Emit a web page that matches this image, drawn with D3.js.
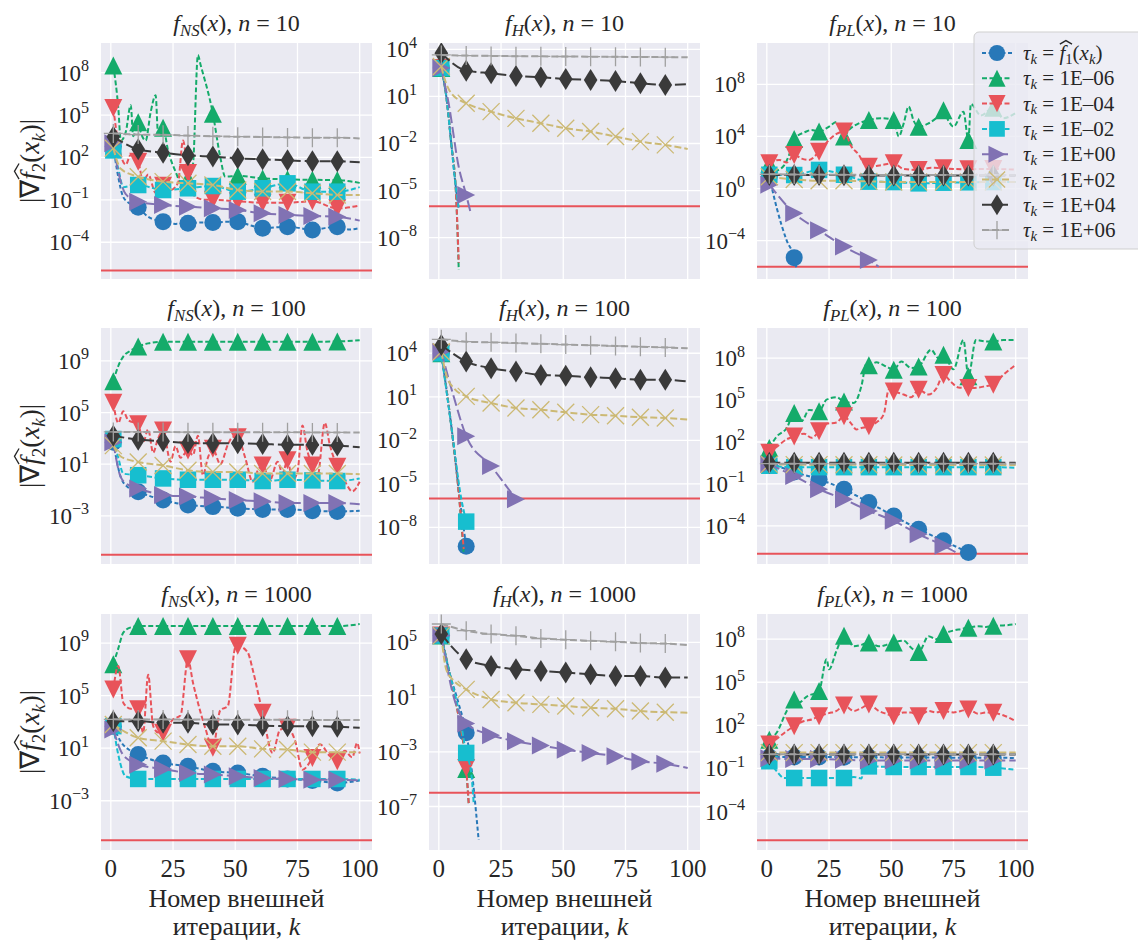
<!DOCTYPE html>
<html>
<head>
<meta charset="utf-8">
<script src="https://cdn.jsdelivr.net/npm/d3@7"></script>
<style>
  body { margin: 0; background: #fff; }
  svg { display: block; }
  text { font-family: "Liberation Serif", "Times New Roman", serif; fill: #262626; white-space: pre; }
</style>
</head>
<body>
<svg id="chart" width="1138" height="944"></svg>
<script>
// DATA ///////////////////////////////////////////////////////////////////////
// every series is a list of [k, log10 |grad f2(x_k)|]
// series order: tau = f1(x_k), 1E-06, 1E-04, 1E-02, 1E+00, 1E+02, 1E+04, 1E+06

const funcNames = ["NS", "H", "PL"];
const dims = [10, 100, 1000];
const tauLabels = ["1E–06", "1E–04", "1E–02", "1E+00", "1E+02", "1E+04", "1E+06"];
const xTicks = [0, 25, 50, 75, 100];
const kRange = [1, 100];
const tolerance = 1e-6;

// y limits and ticks (log10) per panel, row by row
const yLimExp = [
  [-6.60, 10.10], [-10.63, 4.40], [-6.94, 11.17],
  [-6.72, 11.54], [-10.52, 5.74], [-6.73, 10.16],
  [-6.75, 11.22], [-10.18, 7.08], [-6.68, 9.75]
];
const yTickExp = [
  [-4, -1, 2, 5, 8], [-8, -5, -2, 1, 4], [-4, 0, 4, 8],
  [-3, 1, 5, 9], [-8, -5, -2, 1, 4], [-4, -1, 2, 5, 8],
  [-3, 1, 5, 9], [-7, -3, 1, 5], [-4, -1, 2, 5, 8]
];

const fNS10 = [
  [[1,2.8],[3,0.6],[5,-0.8],[8,-1.3],[11,-1.53],[15,-2.2],[21,-2.54],[26,-2.7],[31,-2.66],[36,-2.6],[41,-2.61],[46,-2.55],[51,-2.54],[56,-2.8],[61,-3.0],[66,-2.95],[71,-2.9],[76,-3.0],[81,-3.13],[86,-3.0],[91,-2.9],[96,-3.1],[100,-3.0]],
  [[1,8.5],[3,5.5],[4,3.2],[6,3.8],[8,5.7],[9,3.5],[11,4.5],[12,3.8],[14,3.2],[16,5.2],[18,6.4],[19,3.6],[21,4.1],[23,2.5],[26,1.0],[28,0.3],[31,0.5],[33,1.5],[35,9.25],[36,8.6],[41,5.1],[44,2.0],[46,0.64],[51,0.7],[61,0.52],[71,0.45],[81,0.42],[91,0.4],[100,0.2]],
  [[1,5.5],[3,3.0],[6,1.5],[8,2.2],[11,1.7],[13,0.3],[15,0.8],[18,-0.5],[21,0.0],[24,-0.3],[27,0.2],[29,3.2],[31,0.9],[34,-0.8],[38,-1.0],[41,-1.0],[51,-1.1],[61,-1.2],[71,-1.2],[81,-1.1],[91,-1.6],[100,-1.4]],
  [[1,2.5],[3,1.2],[5,-0.1],[8,0.0],[11,0.05],[21,-0.3],[31,-0.18],[41,-0.02],[51,-0.42],[61,-0.18],[71,0.17],[81,-0.42],[91,-0.42],[100,-0.1]],
  [[1,3.0],[3,1.0],[6,-0.6],[11,-1.13],[21,-1.36],[31,-1.48],[41,-1.6],[51,-1.72],[61,-1.95],[71,-2.07],[81,-2.14],[91,-2.2],[100,-2.47]],
  [[1,2.65],[4,1.2],[11,0.64],[21,0.29],[31,0.17],[41,0.05],[51,-0.3],[61,-0.41],[71,-0.41],[81,-0.53],[91,-0.65],[100,-0.65]],
  [[1,3.47],[11,2.58],[21,2.34],[31,2.15],[41,2.06],[51,1.94],[61,1.87],[71,1.8],[81,1.73],[91,1.73],[100,1.66]],
  [[1,3.7],[11,3.62],[21,3.6],[31,3.55],[41,3.5],[51,3.47],[61,3.45],[71,3.42],[81,3.4],[91,3.4],[100,3.35]]
];

const fH10 = [
  [[1,2.8],[3,1.0],[5,-2.0],[7,-5.0],[8,-6.2]],
  [[1,2.8],[3,1.0],[5,-2.0],[7,-5.5],[8,-10.05]],
  [[1,2.8],[3,1.0],[5,-2.0],[7,-5.5],[8,-9.6]],
  [[1,2.8],[3,1.0],[5,-2.0],[7,-5.0],[8,-6.1]],
  [[1,2.8],[4,0.5],[8,-3.5],[11,-5.28],[13,-6.55]],
  [[1,2.9],[3,1.8],[5,1.2],[11,0.56],[21,0.03],[31,-0.4],[41,-0.71],[51,-1.03],[61,-1.24],[71,-1.56],[81,-1.88],[91,-2.09],[100,-2.35]],
  [[1,3.75],[11,2.64],[21,2.47],[31,2.3],[41,2.22],[51,2.11],[61,2.05],[71,1.98],[81,1.83],[91,1.73],[100,1.77]],
  [[1,3.64],[11,3.6],[21,3.58],[31,3.56],[41,3.55],[51,3.54],[61,3.53],[71,3.52],[81,3.51],[91,3.5],[100,3.49]]
];

const fPL10 = [
  [[1,0.92],[4,-1.5],[8,-4.0],[11,-5.3],[12,-6.2]],
  [[1,1.9],[4,1.4],[7,1.8],[9,2.6],[11,3.8],[12,4.0],[15,4.3],[18,4.5],[21,4.37],[25,4.75],[28,5.1],[31,4.0],[33,4.5],[37,5.0],[41,5.26],[46,5.4],[51,5.26],[53,4.0],[55,5.0],[57,6.3],[59,5.2],[61,4.75],[65,5.0],[68,5.4],[71,6.0],[73,5.2],[75,4.75],[79,5.9],[81,3.73],[82,6.5],[86,5.6],[91,6.2],[95,5.4],[100,5.8]],
  [[1,1.94],[5,2.2],[8,2.0],[11,2.58],[14,2.3],[17,2.2],[21,2.83],[25,3.73],[28,4.2],[31,4.37],[34,3.22],[37,2.58],[39,1.94],[41,1.68],[46,1.8],[51,1.94],[55,1.5],[61,1.43],[66,1.6],[71,1.55],[76,1.5],[81,1.48],[86,1.5],[91,1.5],[100,1.45]],
  [[1,1.06],[11,1.04],[21,1.43],[31,1.06],[41,0.53],[51,0.5],[61,0.4],[71,0.45],[81,0.48],[91,0.5],[100,0.5]],
  [[1,0.3],[11,-1.9],[21,-3.2],[31,-4.45],[41,-5.48],[45,-6.0]],
  [[1,0.9],[11,0.7],[21,0.6],[31,0.6],[41,0.55],[51,0.5],[61,0.5],[71,0.5],[81,0.5],[91,0.5],[100,0.5]],
  [[1,1.05],[11,1.05],[21,1.05],[31,1.02],[41,1.0],[51,1.0],[61,1.0],[71,1.0],[81,1.0],[91,1.0],[100,1.0]],
  [[1,1.1],[11,1.08],[21,1.07],[31,1.06],[41,1.05],[51,1.05],[61,1.05],[71,1.05],[81,1.05],[91,1.05],[100,1.05]]
];

const fNS100 = [
  [[1,2.7],[4,0.0],[7,-0.8],[11,-1.13],[21,-1.77],[31,-2.15],[41,-2.28],[51,-2.4],[61,-2.5],[71,-2.5],[81,-2.6],[91,-2.66],[100,-2.6]],
  [[1,7.42],[3,8.6],[5,9.33],[8,9.8],[11,10.1],[15,10.35],[21,10.48],[31,10.48],[41,10.48],[51,10.48],[61,10.48],[71,10.48],[81,10.48],[91,10.5],[100,10.6]],
  [[1,5.76],[3,4.2],[5,5.1],[7,4.4],[11,4.1],[13,2.7],[15,3.7],[17,1.9],[19,3.0],[21,3.6],[24,1.2],[26,2.4],[28,1.5],[31,2.06],[33,1.7],[35,3.2],[37,0.15],[39,1.5],[41,2.2],[44,1.0],[47,2.5],[49,3.1],[51,3.08],[54,1.5],[57,-0.36],[59,0.5],[61,0.9],[64,-0.2],[67,1.2],[69,0.3],[71,1.3],[73,-0.2],[75,0.4],[77,4.0],[79,2.0],[81,0.9],[83,0.0],[86,4.2],[88,2.5],[91,0.8],[94,-0.3],[97,-1.1],[100,-0.36]],
  [[1,2.95],[3,1.5],[5,0.28],[8,0.2],[11,0.15],[21,-0.1],[31,-0.2],[41,-0.2],[51,-0.2],[61,-0.3],[71,-0.2],[81,-0.25],[91,-0.3],[100,-0.1]],
  [[1,2.7],[4,0.0],[7,-0.6],[11,-0.87],[21,-1.38],[31,-1.5],[41,-1.64],[51,-1.77],[61,-1.87],[71,-2.0],[81,-2.0],[91,-2.0],[100,-2.1]],
  [[1,2.44],[4,1.6],[11,1.17],[21,0.9],[31,0.53],[41,0.4],[51,0.4],[61,0.28],[71,0.28],[81,0.28],[91,0.28],[100,0.22]],
  [[1,3.21],[11,2.9],[21,2.78],[31,2.65],[41,2.62],[51,2.62],[61,2.57],[71,2.5],[81,2.5],[91,2.44],[100,2.32]],
  [[1,3.5],[11,3.5],[21,3.49],[31,3.48],[41,3.48],[51,3.47],[61,3.47],[71,3.47],[81,3.46],[91,3.46],[100,3.46]]
];

const fH100 = [
  [[1,4.0],[5,-1.0],[9,-6.8],[11,-9.3]],
  [[1,4.0],[5,-1.0],[8,-5.6],[10,-9.8]],
  [[1,4.0],[5,-1.0],[8,-5.6],[10,-9.5]],
  [[1,4.0],[5,-1.0],[9,-6.0],[11,-7.6]],
  [[1,4.1],[6,1.0],[11,-1.71],[21,-3.77],[31,-6.06]],
  [[1,4.1],[3,2.5],[6,1.6],[11,1.03],[21,0.57],[31,0.23],[41,0.11],[51,-0.07],[61,-0.23],[71,-0.3],[81,-0.41],[91,-0.46],[100,-0.57]],
  [[1,4.57],[11,3.43],[21,2.97],[31,2.74],[41,2.51],[51,2.45],[61,2.35],[71,2.28],[81,2.17],[91,2.17],[100,2.06]],
  [[1,4.96],[11,4.8],[21,4.75],[31,4.7],[41,4.65],[51,4.6],[61,4.55],[71,4.5],[81,4.45],[91,4.4],[100,4.34]]
];

const fPL100 = [
  [[1,0.52],[11,-0.15],[21,-0.67],[31,-1.38],[41,-2.33],[51,-3.29],[61,-4.24],[71,-5.07],[81,-5.9]],
  [[1,1.58],[4,2.4],[8,3.0],[11,4.08],[14,3.5],[17,4.3],[21,4.2],[24,5.03],[28,5.2],[31,4.9],[35,4.8],[38,6.0],[40,7.6],[41,7.5],[44,7.7],[48,7.4],[51,7.17],[54,7.76],[58,7.3],[61,7.4],[66,8.6],[69,8.0],[71,8.24],[75,7.2],[79,9.3],[81,6.7],[84,9.3],[88,9.2],[91,9.2],[95,9.3],[100,9.3]],
  [[1,1.23],[5,1.8],[8,2.2],[11,2.4],[15,2.6],[18,2.3],[21,2.77],[24,3.3],[28,3.4],[31,3.84],[34,3.3],[36,2.9],[38,3.0],[41,3.13],[44,3.4],[47,4.0],[49,5.74],[51,5.62],[55,5.4],[58,5.2],[61,5.74],[65,5.4],[68,5.8],[71,6.8],[74,6.3],[77,5.9],[81,5.86],[85,5.9],[88,6.0],[91,6.1],[95,6.8],[100,7.52]],
  [[1,0.3],[11,0.2],[21,0.2],[31,0.2],[41,0.2],[51,0.2],[61,0.2],[71,0.2],[81,0.2],[91,0.2],[100,0.15]],
  [[1,0.4],[11,-0.43],[21,-1.38],[31,-2.1],[41,-2.93],[51,-3.64],[61,-4.6],[71,-5.42],[76,-5.9]],
  [[1,0.4],[11,0.38],[21,0.38],[31,0.37],[41,0.37],[51,0.36],[61,0.36],[71,0.36],[81,0.35],[91,0.35],[100,0.35]],
  [[1,0.52],[11,0.52],[21,0.52],[31,0.52],[41,0.52],[51,0.52],[61,0.52],[71,0.52],[81,0.52],[91,0.52],[100,0.52]],
  [[1,0.45],[11,0.45],[21,0.45],[31,0.45],[41,0.45],[51,0.45],[61,0.45],[71,0.45],[81,0.45],[91,0.45],[100,0.45]]
];

const fNS1000 = [
  [[1,2.68],[4,1.5],[8,0.8],[11,0.52],[21,-0.12],[31,-0.38],[41,-0.76],[51,-0.89],[61,-1.14],[71,-1.34],[81,-1.45],[91,-1.65],[100,-1.45]],
  [[1,7.4],[3,8.6],[5,9.8],[8,10.2],[11,10.3],[21,10.3],[31,10.3],[41,10.3],[51,10.3],[61,10.3],[71,10.3],[81,10.3],[91,10.3],[100,10.45]],
  [[1,5.48],[3,7.27],[5,4.47],[8,4.0],[11,3.96],[13,2.17],[15,6.6],[17,2.7],[19,2.2],[21,2.17],[25,3.2],[28,3.5],[31,7.78],[33,6.0],[35,4.47],[38,2.5],[41,1.03],[44,3.9],[47,4.2],[50,8.67],[51,8.8],[55,8.3],[57,7.0],[60,4.5],[61,3.7],[65,0.64],[68,2.4],[71,2.55],[74,1.6],[77,-0.63],[81,0.26],[84,1.3],[88,0.4],[91,0.0],[94,0.8],[97,0.3],[99,1.4],[100,0.6]],
  [[1,2.68],[3,0.5],[6,-1.14],[11,-1.34],[21,-1.34],[31,-1.34],[41,-1.34],[51,-1.34],[61,-1.34],[71,-1.34],[81,-1.34],[91,-1.34],[100,-1.4]],
  [[1,2.43],[4,0.8],[8,0.0],[11,-0.25],[21,-0.58],[31,-0.89],[41,-1.0],[51,-1.14],[61,-1.27],[71,-1.34],[81,-1.4],[91,-1.4],[100,-1.45]],
  [[1,2.8],[11,1.8],[21,1.54],[31,1.28],[41,1.15],[51,1.15],[61,0.95],[71,0.9],[81,0.7],[91,0.7],[100,0.7]],
  [[1,3.06],[11,3.06],[21,2.94],[31,2.94],[41,2.8],[51,2.8],[61,2.72],[71,2.68],[81,2.68],[91,2.63],[100,2.55]],
  [[1,3.2],[11,3.19],[21,3.19],[31,3.18],[41,3.18],[51,3.17],[61,3.16],[71,3.16],[81,3.15],[91,3.15],[100,3.14]]
];

const fH1000 = [
  [[1,5.5],[4,3.0],[8,0.5],[11,-1.61],[13,-4.0],[15,-7.5],[16,-9.45]],
  [[1,5.5],[4,3.0],[8,-0.5],[11,-4.26],[12,-6.76]],
  [[1,5.5],[4,3.0],[8,-0.5],[11,-4.18],[12,-6.76]],
  [[1,5.5],[4,3.0],[8,0.0],[11,-3.08],[13,-4.5],[14,-6.76]],
  [[1,5.5],[6,1.0],[11,-0.93],[21,-1.78],[31,-2.23],[41,-2.54],[51,-2.84],[61,-3.08],[71,-3.33],[81,-3.7],[91,-3.87],[100,-4.18]],
  [[1,5.5],[3,3.0],[6,2.2],[11,1.57],[21,0.83],[31,0.59],[41,0.47],[51,0.35],[61,0.22],[71,0.15],[81,-0.02],[91,-0.1],[100,-0.14]],
  [[1,5.61],[11,3.77],[21,3.28],[31,3.04],[41,2.92],[51,2.8],[61,2.67],[71,2.55],[81,2.55],[91,2.43],[100,2.43]],
  [[1,6.35],[11,5.86],[21,5.61],[31,5.49],[41,5.29],[51,5.2],[61,5.12],[71,5.05],[81,4.95],[91,4.92],[100,4.8]]
];

const fPL1000 = [
  [[1,-0.2],[11,-0.2],[21,-0.2],[31,-0.22],[41,-0.22],[51,-0.24],[61,-0.24],[71,-0.25],[81,-0.25],[91,-0.25],[100,-0.28]],
  [[1,1.0],[4,1.5],[8,3.0],[11,3.8],[13,3.6],[16,4.0],[21,4.39],[24,6.6],[25,5.9],[28,7.2],[31,8.23],[35,7.5],[38,7.6],[41,7.77],[45,7.5],[48,7.6],[51,7.77],[55,7.9],[58,7.4],[61,7.1],[65,8.2],[68,8.0],[71,8.35],[75,8.6],[78,8.7],[81,8.8],[85,8.9],[88,8.85],[91,8.93],[95,8.95],[100,9.05]],
  [[1,0.66],[5,1.2],[8,1.6],[11,1.94],[15,2.3],[18,2.4],[21,2.64],[25,2.85],[28,3.0],[31,3.38],[35,3.0],[38,3.2],[41,3.45],[45,3.0],[48,2.8],[51,2.64],[55,2.9],[58,2.9],[61,2.64],[65,3.0],[68,2.9],[71,2.99],[75,2.9],[78,3.0],[81,3.1],[85,2.8],[88,2.9],[91,2.87],[95,2.7],[100,2.29]],
  [[1,-0.5],[4,-1.2],[7,-1.67],[11,-1.67],[21,-1.67],[31,-1.67],[35,-1.6],[38,-1.7],[39,-1.1],[41,-0.86],[51,-0.9],[61,-0.9],[71,-0.9],[81,-0.9],[91,-0.95],[100,-1.1]],
  [[1,-0.3],[11,-0.35],[21,-0.35],[31,-0.4],[41,-0.45],[51,-0.45],[61,-0.45],[71,-0.45],[81,-0.45],[91,-0.45],[100,-0.45]],
  [[1,0.1],[11,0.1],[21,0.1],[31,0.1],[41,0.1],[51,0.1],[61,0.1],[71,0.1],[81,0.1],[91,0.1],[100,0.1]],
  [[1,-0.04],[11,-0.04],[21,-0.04],[31,-0.04],[41,-0.04],[51,-0.04],[61,-0.04],[71,-0.04],[81,-0.04],[91,-0.04],[100,-0.04]],
  [[1,-0.02],[11,-0.02],[21,-0.02],[31,-0.02],[41,-0.02],[51,-0.02],[61,-0.02],[71,-0.02],[81,-0.02],[91,-0.02],[100,-0.02]]
];

const panelData = [fNS10, fH10, fPL10, fNS100, fH100, fPL100, fNS1000, fH1000, fPL1000];


// STYLES /////////////////////////////////////////////////////////////////////
const seriesStyle = [
  { color: "#2878b8", marker: "circle",   size: 17,   dash: "4,2.5" },
  { color: "#14ab6a", marker: "triUp",    size: 18,   dash: "5,2.5" },
  { color: "#e8535a", marker: "triDown",  size: 18,   dash: "5,2.5" },
  { color: "#17becf", marker: "square",   size: 16.5, dash: "5,2.5" },
  { color: "#8172b3", marker: "triRight", size: 18,   dash: "11,4" },
  { color: "#ccb974", marker: "x",        size: 17,   dash: "7,3" },
  { color: "#3a3a3a", marker: "diamond",  size: 22,   dash: "11,4" },
  { color: "#a0a0a0", marker: "plus",     size: 19,   dash: "7,3" }
];

const colLeft = [101, 429, 757];
const rowTop = [43, 328, 614];
const pw = 271, ph = 236;
const svg = d3.select("#chart");


// HELPERS ////////////////////////////////////////////////////////////////////
function markerPath(type, s) {
  const h = s / 2;
  switch (type) {
    case "circle":   return `M${h},0A${h},${h} 0 1,1 ${-h},0A${h},${h} 0 1,1 ${h},0Z`;
    case "triUp":    return `M0,${-h}L${h},${h}L${-h},${h}Z`;
    case "triDown":  return `M0,${h}L${h},${-h}L${-h},${-h}Z`;
    case "triRight": return `M${h},0L${-h},${h}L${-h},${-h}Z`;
    case "square":   return `M${-h},${-h}H${h}V${h}H${-h}Z`;
    case "diamond":  return `M0,${-h}L${h * 0.62},0L0,${h}L${-h * 0.62},0Z`;
    case "x":        return `M${-h},${-h}L${h},${h}M${-h},${h}L${h},${-h}`;
    case "plus":     return `M${-h},0H${h}M0,${-h}V${h}`;
  }
}

function drawMarker(g, st, px, py) {
  const open = st.marker === "x" || st.marker === "plus";
  g.append("path")
    .attr("transform", `translate(${px},${py})`)
    .attr("d", markerPath(st.marker, st.size))
    .attr("fill", open ? "none" : st.color)
    .attr("stroke", open ? st.color : "none")
    .attr("stroke-width", open ? 1.3 : 0);
}

// parts: [text, flags] with flags i = italic, s = subscript, p = superscript, h = hat
function rich(g, parts, fs, subShift = 0.22) {
  const t = g.append("text").style("font-size", fs + "px");
  let shift = 0, idx = 0;
  const hats = [];
  parts.forEach(([str, fl = ""]) => {
    const target = fl.includes("s") ? subShift * fs : fl.includes("p") ? -0.42 * fs : 0;
    const ts = t.append("tspan").text(str);
    if (target !== shift) ts.attr("dy", target - shift);
    shift = target;
    if (fl.includes("s") || fl.includes("p")) ts.style("font-size", (0.7 * fs) + "px");
    if (fl.includes("i")) ts.style("font-style", "italic");
    if (fl.includes("h")) hats.push(idx);
    idx += str.length;
  });
  return { t, hats, g, fs };
}

function addHats(r) {
  r.hats.forEach(i => {
    const e = r.t.node().getExtentOfChar(i);
    const fs = r.fs;
    const x0 = e.x + 0.02 * fs, x1 = e.x + 0.6 * fs;
    const top = e.y - 0.02 * fs;
    r.g.append("path")
      .attr("d", `M${x0},${top + 0.17 * fs}L${(x0 + x1) / 2},${top}L${x1},${top + 0.17 * fs}`)
      .attr("fill", "none")
      .attr("stroke", "#262626")
      .attr("stroke-width", 1.3);
  });
}

const sup = e => (e < 0 ? "\u2212" + (-e) : String(e));


// PANELS /////////////////////////////////////////////////////////////////////
const xPad = 0.05 * (kRange[1] - kRange[0]);

panelData.forEach((series, p) => {
  const row = Math.floor(p / 3), col = p % 3;
  const left = colLeft[col], top = rowTop[row];
  const g = svg.append("g").attr("transform", `translate(${left},${top})`);

  const x = d3.scaleLinear().domain([kRange[0] - xPad, kRange[1] + xPad]).range([0, pw]);
  const y = d3.scaleLog().domain(yLimExp[p].map(e => Math.pow(10, e))).range([ph, 0]);

  g.append("rect").attr("width", pw).attr("height", ph).attr("fill", "#eaeaf2");

  // grid
  g.selectAll(".gx").data(xTicks).enter().append("line")
    .attr("x1", d => x(d)).attr("x2", d => x(d)).attr("y1", 0).attr("y2", ph)
    .attr("stroke", "#fff").attr("stroke-width", 1.3);
  const yt = yTickExp[p].map(e => Math.pow(10, e));
  g.selectAll(".gy").data(yt).enter().append("line")
    .attr("x1", 0).attr("x2", pw).attr("y1", d => y(d)).attr("y2", d => y(d))
    .attr("stroke", "#fff").attr("stroke-width", 1.3);

  // y tick labels
  yTickExp[p].forEach(e => {
    const tg = g.append("g").attr("transform", `translate(-12,${y(Math.pow(10, e)) + 8})`);
    rich(tg, [["10"], [sup(e), "p"]], 23).t.attr("text-anchor", "end");
  });

  // x tick labels on the bottom row
  if (row === 2) {
    g.selectAll(".xt").data(xTicks).enter().append("text")
      .attr("x", d => x(d)).attr("y", ph + 27)
      .attr("text-anchor", "middle").style("font-size", "25px")
      .text(d => d);
    const lg = g.append("g").attr("transform", `translate(${pw / 2},0)`);
    lg.append("text").attr("y", ph + 57).attr("text-anchor", "middle")
      .style("font-size", "26px").text("Номер внешней");
    const l2 = lg.append("g").attr("transform", `translate(0,${ph + 85})`);
    rich(l2, [["итерации, "], ["k", "i"]], 26).t.attr("text-anchor", "middle");
  }

  // title
  const tg = g.append("g").attr("transform", `translate(${pw / 2},-12)`);
  rich(tg, [["f", "i"], [funcNames[col], "is"], ["("], ["x", "i"], ["), "], ["n", "i"], [" = " + dims[row]]], 24)
    .t.attr("text-anchor", "middle");

  // y label on the first column
  if (col === 0) {
    const yg = svg.append("g").attr("transform", `translate(39,${top + ph / 2}) rotate(-90)`);
    const r = rich(yg, [["|\u2207"], ["f", "ih"], ["2", "s"], ["("], ["x", "i"], ["k", "is"], [")|"]], 27);
    r.t.attr("text-anchor", "middle");
    addHats(r);
  }

  // plotting area
  const clipId = "clip" + p;
  g.append("clipPath").attr("id", clipId).append("rect").attr("width", pw).attr("height", ph);
  const area = g.append("g").attr("clip-path", `url(#${clipId})`);

  area.append("line")
    .attr("x1", 0).attr("x2", pw).attr("y1", y(tolerance)).attr("y2", y(tolerance))
    .attr("stroke", "#e8535a").attr("stroke-width", 2);

  const line = d3.line()
    .x(d => x(d[0]))
    .y(d => y(Math.pow(10, d[1])))
    .curve(d3.curveMonotoneX);

  series.forEach((pts, s) => {
    const st = seriesStyle[s];
    area.append("path")
      .attr("d", line(pts))
      .attr("fill", "none")
      .attr("stroke", st.color)
      .attr("stroke-width", 2)
      .attr("stroke-dasharray", st.dash);
    pts.filter(d => d[0] % 10 === 1).forEach(d => drawMarker(area, st, x(d[0]), y(Math.pow(10, d[1]))));
  });
});


// LEGEND /////////////////////////////////////////////////////////////////////
const legend = svg.append("g").attr("transform", "translate(974,32)");
legend.append("rect")
  .attr("width", 200).attr("height", 217).attr("rx", 5)
  .attr("fill", "#eaeaf2").attr("fill-opacity", 0.8)
  .attr("stroke", "#cfcfcf").attr("stroke-width", 1);

seriesStyle.forEach((st, i) => {
  const ly = 21 + i * 25.3;
  legend.append("line")
    .attr("x1", 8).attr("x2", 38).attr("y1", ly).attr("y2", ly)
    .attr("stroke", st.color).attr("stroke-width", 2).attr("stroke-dasharray", st.dash);
  drawMarker(legend, { ...st, size: st.size * 0.95 }, 23, ly);
  const lg = legend.append("g").attr("transform", `translate(49,${ly + 7})`);
  const parts = i === 0
    ? [["τ", "i"], ["k", "is"], [" = "], ["f", "ih"], ["1", "s"], ["("], ["x", "i"], ["k", "is"], [")"]]
    : [["τ", "i"], ["k", "is"], [" = " + tauLabels[i - 1]]];
  const r = rich(lg, parts, 21, 0.18);
  addHats(r);
});
</script>
</body>
</html>
